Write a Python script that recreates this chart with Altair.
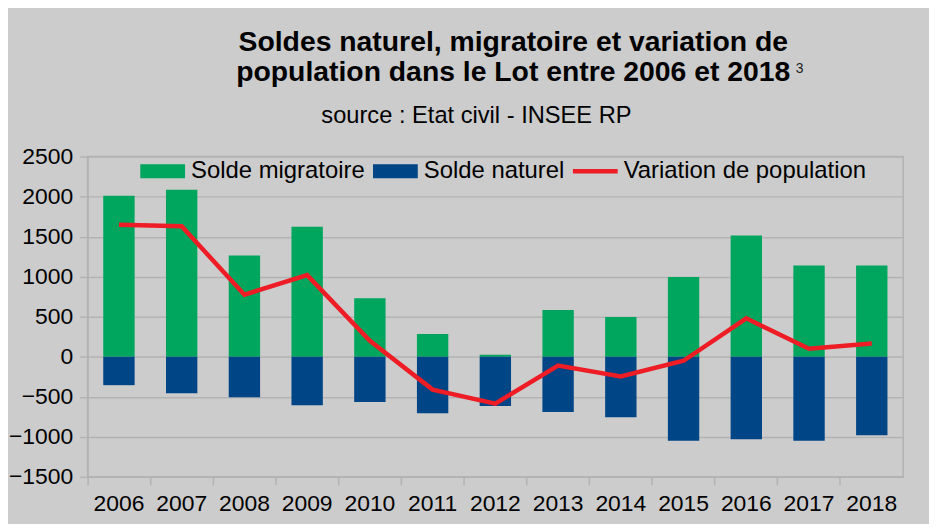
import altair as alt
import pandas as pd

years = [str(y) for y in range(2006, 2019)]
migratoire = [2010, 2085, 1265, 1625, 730, 285, 25, 585, 495, 995, 1515, 1140, 1140]
naturel = [-355, -455, -505, -605, -565, -705, -615, -690, -755, -1050, -1030, -1050, -980]
variation = [1650, 1630, 775, 1020, 200, -410, -585, -110, -245, -50, 480, 100, 165]

series_names = ["Solde migratoire", "Solde naturel", "Variation de population"]
series_colors = ["#00a65d", "#004586", "#ee1c25"]
y_ticks = [-1500, -1000, -500, 0, 500, 1000, 1500, 2000, 2500]

title_lines = ["Soldes naturel, migratoire et variation de",
               "population dans le Lot entre 2006 et 2018"]
title_note = "3"
subtitle = "source : Etat civil - INSEE RP"

FONT = "Liberation Sans"
GRID = "#b3b3b3"

bars_df = pd.DataFrame({
    "year": years * 2,
    "series": [series_names[0]] * len(years) + [series_names[1]] * len(years),
    "value": migratoire + naturel,
})
line_df = pd.DataFrame({"year": years, "value": variation})
legend_df = pd.DataFrame({"series": series_names})
sub_df = pd.DataFrame({"t": [subtitle]})
note_df = pd.DataFrame({"t": [title_note]})

color_scale = alt.Scale(domain=series_names, range=series_colors)

bar_shape = "M-1,-0.311H1V0.311H-1Z"
line_shape = "M-1,-0.1H1V0.1H-1Z"
shape_scale = alt.Scale(domain=series_names, range=[bar_shape, bar_shape, line_shape])

legend = alt.Legend(
    orient="none", legendX=53, legendY=-8, direction="horizontal", columns=3,
    title=None, labelFontSize=24, labelFont=FONT, labelColor="black",
    labelLimit=400, symbolSize=2025,
    symbolStrokeWidth=0, symbolOpacity=1, columnPadding=8, labelOffset=6,
    padding=0,
)

x_enc = alt.X(
    "year:N", sort=years,
    scale=alt.Scale(paddingInner=0, paddingOuter=0),
    axis=alt.Axis(title=None, labelAngle=0, bandPosition=0, tickSize=8,
                  labelPadding=8, labelFontSize=23, labelFont=FONT,
                  labelColor="black", domainColor=GRID, tickColor=GRID,
                  domainWidth=1.5, tickWidth=1.5, grid=False),
)
y_enc = alt.Y(
    "value:Q", stack="zero",
    scale=alt.Scale(domain=[-1500, 2500], nice=False),
    axis=alt.Axis(title=None, values=y_ticks, format="d", tickSize=8,
                  labelPadding=7, labelFontSize=23, labelFont=FONT,
                  labelColor="black", domainColor=GRID, tickColor=GRID,
                  gridColor=GRID, gridWidth=1.5, domainWidth=1.5, tickWidth=1.5),
)

bars = alt.Chart(bars_df).mark_bar(width={"band": 0.5}).encode(
    x=x_enc,
    y=y_enc,
    color=alt.Color("series:N", scale=color_scale, legend=legend),
)

line = alt.Chart(line_df).mark_line(strokeWidth=4.5, color=series_colors[2]).encode(
    x=alt.X("year:N", sort=years),
    y=alt.Y("value:Q"),
)

legend_layer = alt.Chart(legend_df).mark_point(filled=True, opacity=0, size=2025).encode(
    x=alt.value(0), y=alt.value(0),
    color=alt.Color("series:N", scale=color_scale, legend=legend),
    shape=alt.Shape("series:N", scale=shape_scale, legend=legend),
)

sub = alt.Chart(sub_df).mark_text(
    font=FONT, fontSize=23.8, color="black", align="center", baseline="alphabetic"
).encode(text="t:N", x=alt.value(391), y=alt.value(-34))

note = alt.Chart(note_df).mark_text(
    font=FONT, fontSize=14, color="#222222", align="left", baseline="alphabetic"
).encode(text="t:N", x=alt.value(712), y=alt.value(-84))

chart = alt.layer(bars, line, legend_layer, sub, note).properties(
    width=820, height=322,
    title=alt.Title(title_lines, font=FONT, fontSize=28.5, fontWeight="bold",
                    color="black", anchor="middle", dx=18, offset=-25,
                    lineHeight=31),
    background="#cccccc",
    padding={"left": 80, "top": 148, "right": 26, "bottom": 46},
    autosize=alt.AutoSizeParams(type="none"),
).configure_view(stroke=GRID, strokeWidth=1.5)

chart.save("out.html", embed_options={"renderer": "svg", "actions": False})
